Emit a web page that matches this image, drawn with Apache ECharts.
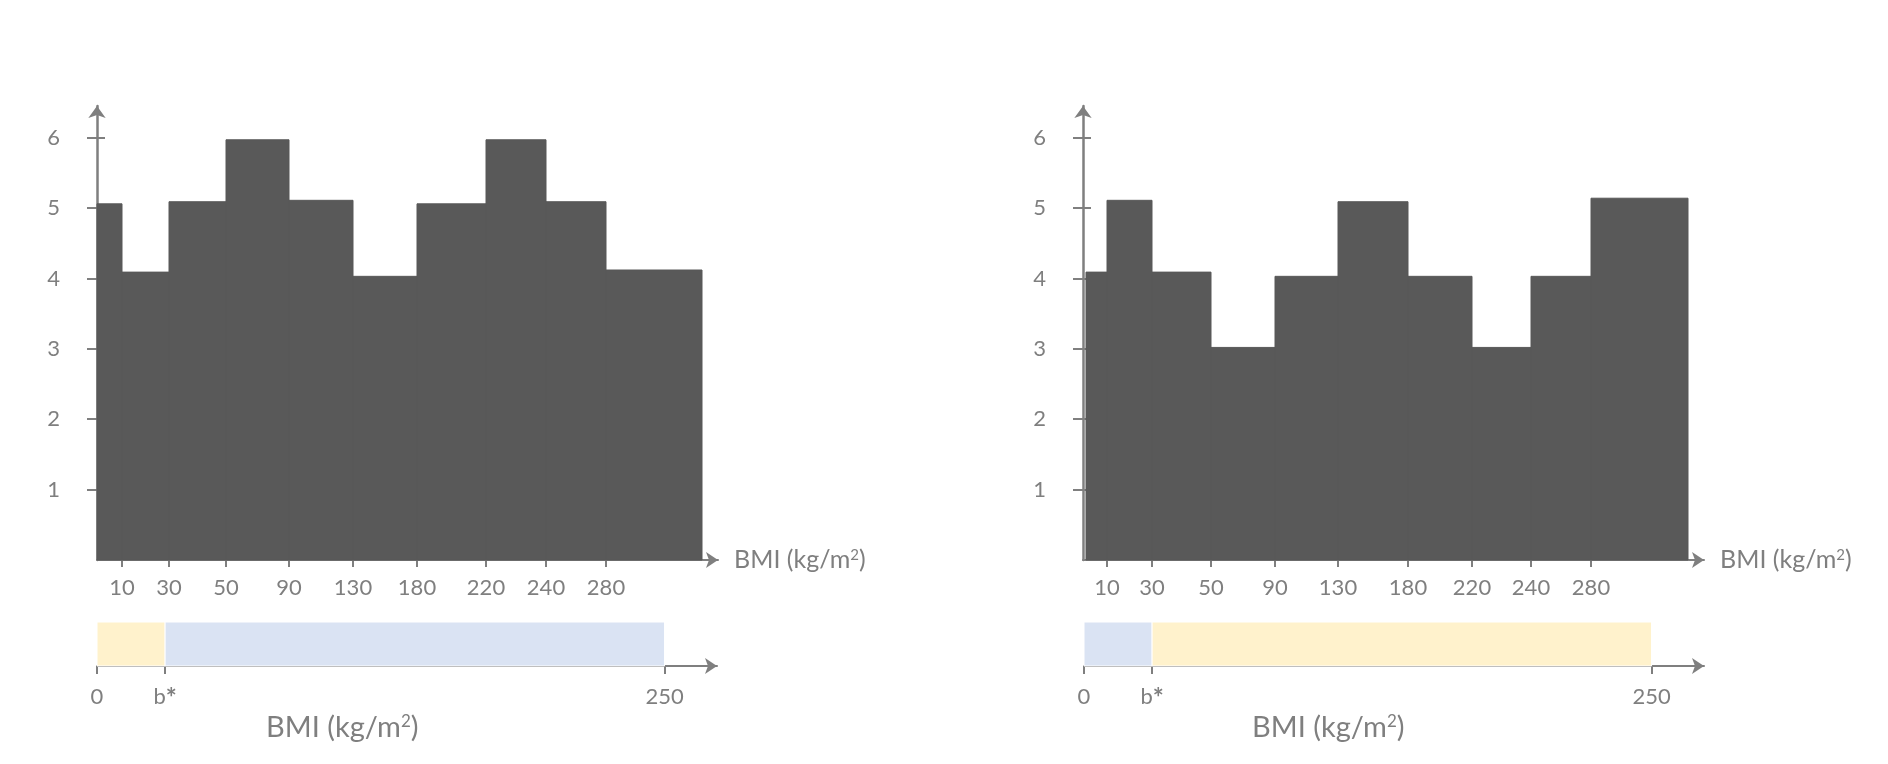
<!DOCTYPE html>
<html><head><meta charset="utf-8">
<script src="https://cdn.jsdelivr.net/npm/echarts@6/dist/echarts.min.js"></script>
<style>html,body{margin:0;padding:0;background:#fff}#c{width:1888px;height:764px}</style>
</head><body><div id="c"></div>
<script>
// ---------- DATA ----------
// Histogram bins: start / end positions along the (schematic) BMI axis, and heights
const leftBinStart  = [0, 2.5, 7.2, 12.9, 19.2, 25.6, 32.0, 38.9, 44.9, 50.9];
const leftBinEnd    = [2.5, 7.2, 12.9, 19.2, 25.6, 32.0, 38.9, 44.9, 50.9, 60.5];
const leftCounts    = [5.06, 4.09, 5.09, 5.97, 5.11, 4.03, 5.06, 5.97, 5.09, 4.12];

const rightBinStart = [0.3, 2.4, 6.9, 12.8, 19.2, 25.5, 32.5, 38.9, 44.8, 50.8];
const rightBinEnd   = [2.4, 6.9, 12.8, 19.2, 25.5, 32.5, 38.9, 44.8, 50.8, 60.5];
const rightCounts   = [4.09, 5.11, 4.09, 3.02, 4.03, 5.09, 4.03, 3.02, 4.03, 5.14];

// Histogram x tick labels (at inner bin edges)
const binTickLabels = ['10', '30', '50', '90', '130', '180', '220', '240', '280'];
const leftTickPos   = [2.5, 7.2, 12.9, 19.2, 25.6, 32.0, 38.9, 44.9, 50.9];
const rightTickPos  = [2.4, 6.9, 12.8, 19.2, 25.5, 32.5, 38.9, 44.8, 50.8];

// Y axis ticks
const yTickValues = [1, 2, 3, 4, 5, 6];

// Lower strips (BMI scale 0..250 with threshold b*)
const bStar = 30;
const stripTickValues = [0, bStar, 250];
const stripTickLabels = ['0', 'b{ast|*}', '250'];
const stripStart = [0, bStar];
const stripEnd   = [bStar, 250];
const leftStripGroups  = ['low', 'high'];
const rightStripGroups = ['high', 'low'];

const axisTitle = 'BMI (kg/m{sup|2})';

// ---------- STYLE ----------
const GRAY = '#7f7f7f';
const BAR = '#595959';
const STRIP_COLORS = { low: '#FFF2CC', high: '#DAE3F3' };
const FONT = 'Lato';

function richFor(size) {
  return {
    sup: { fontFamily: FONT, color: GRAY, fontSize: Math.round(size * 0.6), verticalAlign: 'top', lineHeight: Math.round(size * 0.7) }
  };
}

function histXAxis(gridIndex, tickPos) {
  const map = {};
  tickPos.forEach((p, i) => { map[p] = binTickLabels[i]; });
  return {
    type: 'value', gridIndex, min: 0, max: 62.1,
    axisLine: { show: true, lineStyle: { color: GRAY, width: 2 }, symbol: ['none', 'arrow'], symbolSize: [12, 12] },
    axisTick: { show: true, length: 7, lineStyle: { color: GRAY, width: 2 }, customValues: tickPos },
    axisLabel: { show: true, margin: 17, color: GRAY, fontFamily: FONT, fontSize: 22,
      customValues: tickPos, formatter: v => map[v] || '' },
    splitLine: { show: false },
    name: axisTitle, nameLocation: 'end', nameGap: 16,
    nameTextStyle: { color: GRAY, fontFamily: FONT, fontSize: 25, verticalAlign: 'middle', rich: richFor(25) }
  };
}

function histYAxes(gridIndex) {
  return [
    {
      type: 'value', gridIndex, min: 0, max: 6.45, position: 'left',
      axisLine: { show: true, lineStyle: { color: GRAY, width: 2.5 }, symbol: ['none', 'arrow'], symbolSize: [13, 12] },
      axisTick: { show: true, length: 10, lineStyle: { color: GRAY, width: 2 }, customValues: yTickValues },
      axisLabel: { show: true, margin: 37, color: GRAY, fontFamily: FONT, fontSize: 22, customValues: yTickValues },
      splitLine: { show: false }
    },
    {
      type: 'value', gridIndex, min: 0, max: 6.45, position: 'left', offset: 0,
      axisLine: { show: false },
      axisTick: { show: true, inside: true, length: 8, lineStyle: { color: GRAY, width: 2 }, customValues: yTickValues },
      axisLabel: { show: false },
      splitLine: { show: false }
    }
  ];
}

function stripXAxis(gridIndex) {
  const map = {};
  stripTickValues.forEach((v, i) => { map[v] = stripTickLabels[i]; });
  return {
    type: 'value', gridIndex, min: 0, max: 273.1,
    axisLine: { show: true, lineStyle: { color: GRAY, width: 2 }, symbol: ['none', 'arrow'], symbolSize: [12, 12] },
    axisTick: { show: true, length: 8, lineStyle: { color: GRAY, width: 2 }, customValues: stripTickValues },
    axisLabel: { show: true, margin: 20, color: GRAY, fontFamily: FONT, fontSize: 22,
      customValues: stripTickValues, formatter: v => map[v],
      rich: { ast: { fontFamily: FONT, color: GRAY, fontSize: 26, fontWeight: 'bold', verticalAlign: 'top', lineHeight: 18 } } },
    splitLine: { show: false }
  };
}

function stripYAxis(gridIndex) {
  return { type: 'value', gridIndex, min: 0, max: 1, show: false, splitLine: { show: false } };
}

function binSeries(xi, yi, starts, ends, counts) {
  return {
    type: 'custom', xAxisIndex: xi, yAxisIndex: yi, z: 3,
    data: starts.map((s, i) => [s, ends[i], counts[i]]),
    encode: { x: [0, 1], y: 2 },
    renderItem: (params, api) => {
      const p0 = api.coord([api.value(0), api.value(2)]);
      const p1 = api.coord([api.value(1), 0]);
      return {
        type: 'rect',
        shape: { x: p0[0], y: p0[1], width: p1[0] - p0[0], height: p1[1] - p0[1] },
        style: { fill: BAR, stroke: BAR, lineWidth: 1 }
      };
    }
  };
}

function stripSeries(xi, yi, groups) {
  return {
    type: 'custom', xAxisIndex: xi, yAxisIndex: yi, z: 1,
    data: stripStart.map((s, i) => [s, stripEnd[i], 1, i]),
    encode: { x: [0, 1], y: 2 },
    renderItem: (params, api) => {
      const p0 = api.coord([api.value(0), api.value(2)]);
      const p1 = api.coord([api.value(1), 0]);
      return {
        type: 'rect',
        shape: { x: p0[0], y: p0[1], width: p1[0] - p0[0], height: p1[1] - p0[1] },
        style: { fill: STRIP_COLORS[groups[params.dataIndex]], stroke: '#ffffff', lineWidth: 1 }
      };
    }
  };
}

const chart = echarts.init(document.getElementById('c'), null, { renderer: 'canvas' });
chart.setOption({
  backgroundColor: '#ffffff',
  animation: false,
  grid: [
    { left: 97, top: 106, width: 621, height: 454 },
    { left: 1083, top: 106, width: 621, height: 454 },
    { left: 97, top: 622, width: 620, height: 44 },
    { left: 1084, top: 622, width: 620, height: 44 }
  ],
  xAxis: [histXAxis(0, leftTickPos), histXAxis(1, rightTickPos), stripXAxis(2), stripXAxis(3)],
  yAxis: [...histYAxes(0), ...histYAxes(1), stripYAxis(2), stripYAxis(3)],
  series: [
    binSeries(0, 0, leftBinStart, leftBinEnd, leftCounts),
    binSeries(1, 2, rightBinStart, rightBinEnd, rightCounts),
    stripSeries(2, 4, leftStripGroups),
    stripSeries(3, 5, rightStripGroups)
  ],
  graphic: [
    { type: 'text', left: 343 - 77, top: 713,
      style: { text: axisTitle, fill: GRAY, font: '29px ' + FONT, rich: richFor(29) } },
    { type: 'text', left: 1329 - 77, top: 713,
      style: { text: axisTitle, fill: GRAY, font: '29px ' + FONT, rich: richFor(29) } }
  ]
});
</script>
</body></html>
